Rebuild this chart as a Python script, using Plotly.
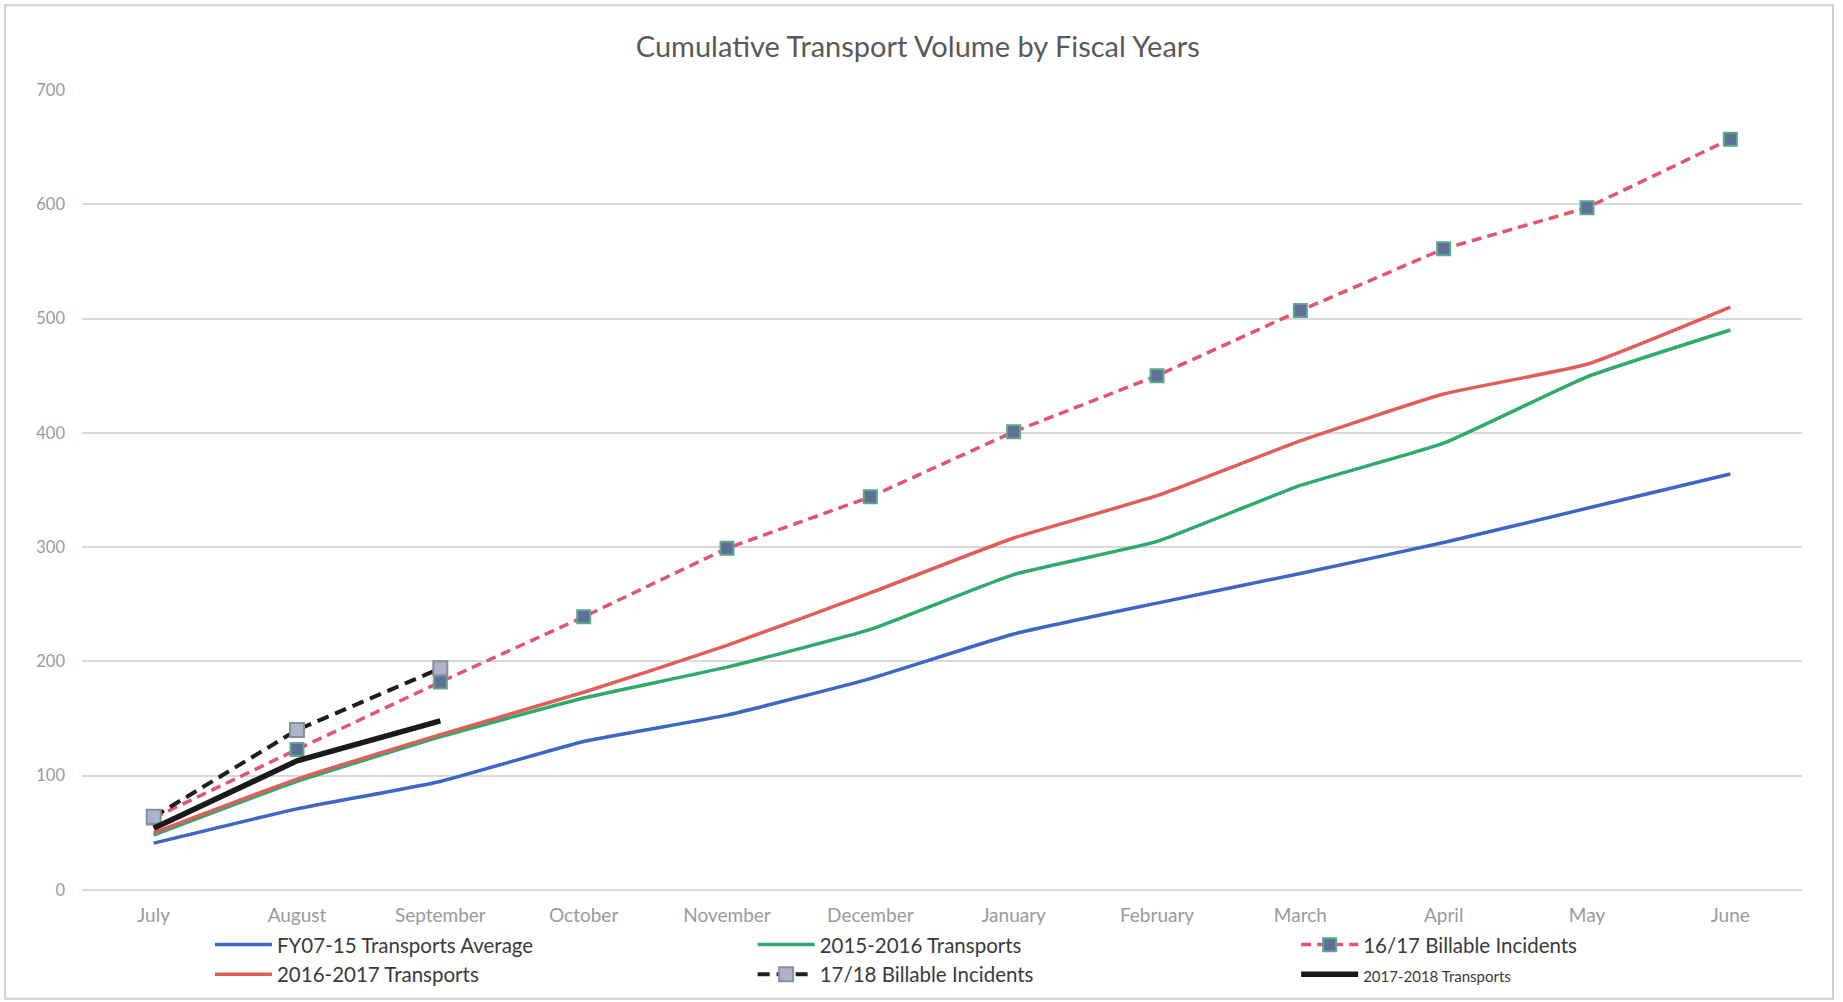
import plotly.graph_objects as go

months = ["July", "August", "September", "October", "November", "December",
          "January", "February", "March", "April", "May", "June"]
fy07_15_avg = [41, 71, 95, 130, 153, 185, 224, 251, 277, 304, 334, 364]
t2015_2016 = [48, 95, 134, 168, 195, 228, 276, 305, 354, 391, 449, 490]
t2016_2017 = [50, 97, 136, 173, 214, 260, 308, 345, 393, 434, 460, 510]
billable_16_17 = [63, 123, 182, 239, 299, 344, 401, 450, 507, 561, 597, 657]
billable_17_18 = [64, 140, 194]
t2017_2018 = [54, 113, 148]
y_ticks = [0, 100, 200, 300, 400, 500, 600, 700]

FONT = "Lato"
fig = go.Figure()

fig.add_trace(go.Scatter(x=months, y=fy07_15_avg, name="FY07-15 Transports Average", legend="legend",
                         mode="lines", line=dict(color="#3d67c2", width=3.5, shape="spline", smoothing=0.4)))
fig.add_trace(go.Scatter(x=months, y=t2015_2016, name="2015-2016 Transports", legend="legend2",
                         mode="lines", line=dict(color="#2eab6c", width=3.5, shape="spline", smoothing=0.4)))
fig.add_trace(go.Scatter(x=months, y=billable_16_17, name="16/17 Billable Incidents", legend="legend3",
                         mode="lines+markers",
                         line=dict(color="#e2546f", width=3.5, dash="10px,6px"),
                         marker=dict(symbol="square", size=13, color="#5f6f98",
                                     line=dict(color="#5aa88e", width=2))))
fig.add_trace(go.Scatter(x=months, y=t2016_2017, name="2016-2017 Transports", legend="legend",
                         mode="lines", line=dict(color="#df5f58", width=3.5, shape="spline", smoothing=0.4)))
fig.add_trace(go.Scatter(x=months[:len(billable_17_18)], y=billable_17_18, name="17/18 Billable Incidents",
                         legend="legend2", mode="lines+markers",
                         line=dict(color="#1e1e1e", width=4, dash="12px,7px"),
                         marker=dict(symbol="square", size=14, color="#aab5cc",
                                     line=dict(color="#8c8f96", width=2))))
fig.add_trace(go.Scatter(x=months[:len(t2017_2018)], y=t2017_2018, legend="legend3",
                         name="<span style='font-size:15px'>2017-2018 Transports</span>",
                         mode="lines", line=dict(color="#1a1a1a", width=5.5)))

legend_common = dict(orientation="v", xanchor="left", yanchor="top",
                     xref="paper", yref="paper", y=-0.0435,
                     bgcolor="rgba(0,0,0,0)", tracegroupgap=0, itemwidth=57,
                     font=dict(size=20.5, color="#3a3a3a", family=FONT))

fig.update_layout(
    width=1843, height=1002,
    margin=dict(l=82, r=41, t=90, b=112, autoexpand=False),
    paper_bgcolor="white", plot_bgcolor="white",
    font=dict(family=FONT, color="#404040"),
    title=dict(text="Cumulative Transport Volume by Fiscal Years",
               x=0.498, xref="container", xanchor="center",
               y=1 - 47 / 1002, yref="container", yanchor="middle",
               font=dict(size=29, color="#595959", family=FONT)),
    showlegend=True,
    legend=dict(x=0.0744, **legend_common),
    legend2=dict(x=0.3899, **legend_common),
    legend3=dict(x=0.7059, **legend_common),
    shapes=[dict(type="rect", xref="paper", yref="paper",
                 x0=-0.0447, x1=1.018, y0=-0.136, y1=1.106,
                 line=dict(color="#cfcfcf", width=2), fillcolor="rgba(0,0,0,0)", layer="below")],
)

fig.update_xaxes(type="category", categoryorder="array", categoryarray=months,
                 range=[-0.5, 11.5], showgrid=False, zeroline=False, showline=False,
                 ticks="", ticklabelstandoff=12,
                 tickfont=dict(size=19, color="#9a9a9a", family=FONT))
fig.update_yaxes(range=[0, 700], tickvals=y_ticks, showgrid=True, gridcolor="#d9d9d9", gridwidth=2,
                 zeroline=True, zerolinecolor="#d9d9d9", zerolinewidth=2, showline=False,
                 ticks="", ticklabelstandoff=16,
                 tickfont=dict(size=16.5, color="#9a9a9a", family=FONT))

fig.write_html("out.html")
